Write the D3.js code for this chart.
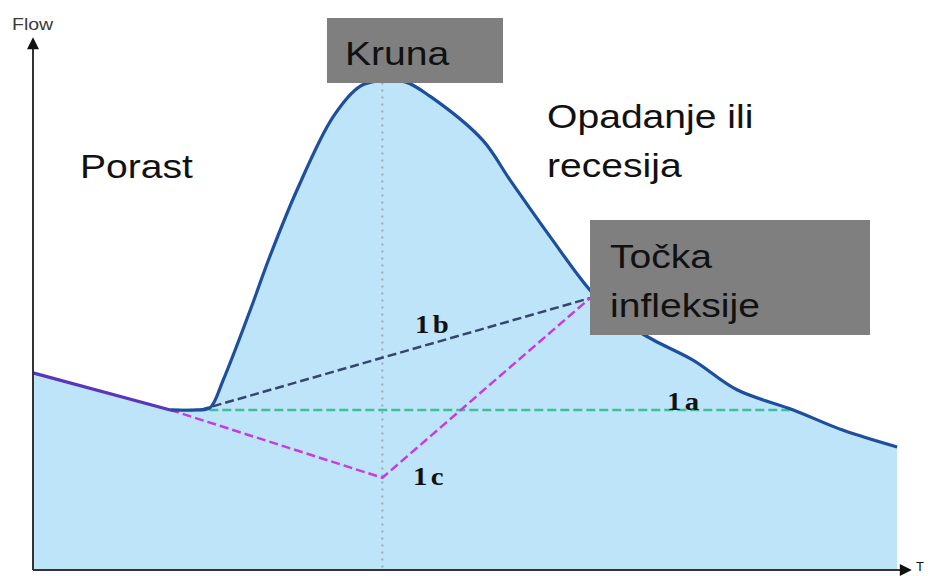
<!DOCTYPE html>
<html>
<head>
<meta charset="utf-8">
<script src="https://cdn.jsdelivr.net/npm/d3@7/dist/d3.min.js"></script>
<style>
  body { margin: 0; background: #fff; }
  svg { display: block; }
</style>
</head>
<body>
<div id="chart"></div>
<script>
// hydrograph (time and flow in arbitrary units)
var time = [0, 15.6, 18.6, 20.1, 21.6, 24.7, 26.9, 30.0, 34.1, 37.2, 39.4, 42.3, 45.1, 51.1, 54.2, 58.8, 63.3, 66.7, 70.5, 75.0, 80.0, 86.4, 92.0, 98.2];
var flow = [37.2, 30.2, 30.2, 30.6, 35.8, 49.1, 59.1, 71.7, 85.5, 91.3, 92.3, 92.1, 89.4, 81.1, 73.6, 62.8, 52.8, 47.2, 43.4, 39.6, 34.0, 30.2, 26.4, 23.2];

// baseflow separation lines
var sepNames = ["1a", "1b", "1c"];
var sepTime = [[15.6, 86.4], [19.0, 63.3], [15.6, 39.7, 63.3]];
var sepFlow = [[30.2, 30.2], [30.2, 51.3], [30.2, 17.4, 51.3]];

// peak time (dotted vertical)
var peakTime = 39.7;

var width = 930, height = 576;

var svg = d3.select("#chart")
  .append("svg")
    .attr("width", width)
    .attr("height", height);

var x = d3.scaleLinear().domain([0, 100]).range([33, 913]);
var y = d3.scaleLinear().domain([0, 100]).range([570, 40]);

var pts = time.map(function(t, i) { return {t: t, q: flow[i]}; });

// hydrograph line: straight recession first, smooth event after
var line = d3.line()
  .curve(d3.curveCatmullRom.alpha(0.5))
  .x(function(d) { return x(d.t); })
  .y(function(d) { return y(d.q); });

var eventPath = line(pts.slice(1));
var first = pts[0], last = pts[pts.length - 1];

// filled area under the hydrograph
var areaPath = "M" + x(first.t) + "," + y(0) +
  "L" + x(first.t) + "," + y(first.q) +
  "L" + eventPath.slice(1) +
  "L" + x(last.t) + "," + y(0) + "Z";

svg.append("path")
  .attr("d", areaPath)
  .attr("fill", "#bee4f9");

// dotted line under the peak
svg.append("line")
  .attr("x1", x(peakTime)).attr("x2", x(peakTime))
  .attr("y1", y(92)).attr("y2", y(0))
  .attr("stroke", "#9aaab4")
  .attr("stroke-width", 2)
  .attr("stroke-dasharray", "2,5");

// separation lines
var sepColor = {"1a": "#3dbf9f", "1b": "#34466f", "1c": "#c43de0"};
var sepLine = d3.line()
  .x(function(d) { return x(d.t); })
  .y(function(d) { return y(d.q); });

sepNames.forEach(function(name, k) {
  var data = sepTime[k].map(function(t, i) { return {t: t, q: sepFlow[k][i]}; });
  svg.append("path")
    .datum(data)
    .attr("d", sepLine)
    .attr("fill", "none")
    .attr("stroke", sepColor[name])
    .attr("stroke-width", 2.5)
    .attr("stroke-dasharray", "9,4");
});

svg.append("path")
  .attr("d", eventPath)
  .attr("fill", "none")
  .attr("stroke", "#1d4f9c")
  .attr("stroke-width", 3.2)
  .attr("stroke-linejoin", "round");

// recession before the event (blue + magenta overlap)
svg.append("path")
  .datum(pts.slice(0, 2))
  .attr("d", sepLine)
  .attr("fill", "none")
  .attr("stroke", "#5a36b8")
  .attr("stroke-width", 3.2);

// axes with arrows
var defs = svg.append("defs");
defs.append("marker")
  .attr("id", "arrow")
  .attr("viewBox", "0 0 10 10")
  .attr("refX", 1).attr("refY", 5)
  .attr("markerWidth", 7).attr("markerHeight", 6)
  .attr("markerUnits", "strokeWidth")
  .attr("orient", "auto")
  .append("path")
    .attr("d", "M0,0L10,5L0,10Z")
    .attr("fill", "#111");

var yAxis = svg.append("g")
  .attr("transform", "translate(" + x(0) + ",0)")
  .call(d3.axisLeft(y).ticks(0).tickSizeOuter(0));
yAxis.select(".domain")
  .attr("stroke", "#333")
  .attr("stroke-width", 2)
  .attr("d", "M0," + y(0) + "V" + (y(100) + 8))
  .attr("marker-end", "url(#arrow)");

var xAxis = svg.append("g")
  .attr("transform", "translate(0," + y(0) + ")")
  .call(d3.axisBottom(x).ticks(0).tickSizeOuter(0));
xAxis.select(".domain")
  .attr("stroke", "#333")
  .attr("stroke-width", 2)
  .attr("d", "M" + x(0) + ",0H" + (x(100) - 12))
  .attr("marker-end", "url(#arrow)");

svg.append("text")
  .attr("transform", "translate(12,30) scale(1.15,1)")
  .attr("font-family", "Liberation Sans, Arial, sans-serif")
  .attr("font-size", 17)
  .attr("fill", "#3a3a3a")
  .text("Flow");

svg.append("text")
  .attr("x", 916).attr("y", 571)
  .attr("font-family", "Liberation Sans, Arial, sans-serif")
  .attr("font-size", 13)
  .attr("fill", "#111")
  .text("T");

// grey boxes
var boxes = [
  {x: 327, y: 18, w: 176, h: 65},
  {x: 590, y: 220, w: 280, h: 115}
];
svg.selectAll("rect.box")
  .data(boxes)
  .enter()
  .append("rect")
    .attr("class", "box")
    .attr("x", function(d) { return d.x; })
    .attr("y", function(d) { return d.y; })
    .attr("width", function(d) { return d.w; })
    .attr("height", function(d) { return d.h; })
    .attr("fill", "#7f7f7f");

// big labels
var labels = [
  {text: "Porast", x: 80, y: 178},
  {text: "Kruna", x: 345, y: 65},
  {text: "Opadanje ili", x: 547, y: 128},
  {text: "recesija", x: 547, y: 177},
  {text: "Točka", x: 610, y: 268},
  {text: "infleksije", x: 610, y: 317}
];
svg.selectAll("text.lbl")
  .data(labels)
  .enter()
  .append("text")
    .attr("class", "lbl")
    .attr("transform", function(d) { return "translate(" + d.x + "," + d.y + ") scale(1.15,1)"; })
    .attr("font-family", "Liberation Sans, Arial, sans-serif")
    .attr("font-size", 34)
    .attr("fill", "#111")
    .text(function(d) { return d.text; });

// separation labels
var sepLabelPos = {"1a": [667, 410], "1b": [415, 333], "1c": [413, 485]};
sepNames.forEach(function(name) {
  svg.append("text")
    .attr("transform", "translate(" + sepLabelPos[name][0] + "," + sepLabelPos[name][1] + ") scale(1.15,1)")
    .attr("font-family", "Liberation Serif, Times New Roman, serif")
    .attr("font-weight", "bold")
    .attr("font-size", 25)
    .attr("letter-spacing", 3)
    .attr("fill", "#111")
    .text(name);
});
</script>
</body>
</html>
